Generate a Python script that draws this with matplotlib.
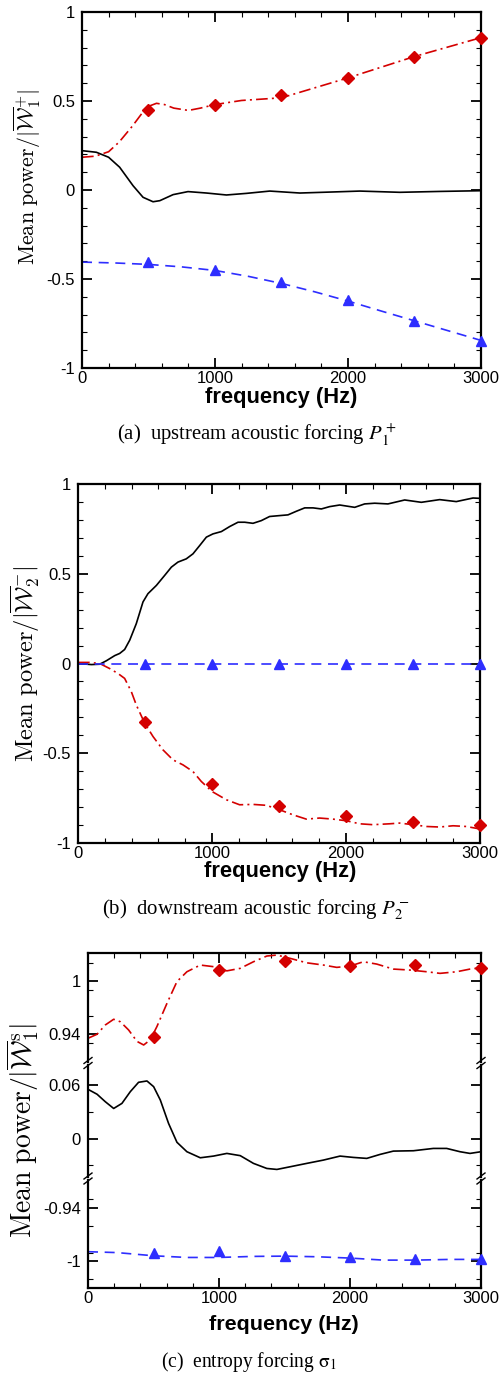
import matplotlib
matplotlib.use('Agg')
import matplotlib.pyplot as plt
from matplotlib.ticker import MultipleLocator, FixedLocator, FixedFormatter
from matplotlib.lines import Line2D

plt.rcParams['font.family'] = ['Liberation Sans', 'DejaVu Sans']
plt.rcParams['axes.unicode_minus'] = False

# ---------------- data ----------------
marker_freq = [500, 1000, 1500, 2000, 2500, 3000]

# panel (a): upstream acoustic forcing
a_red_f = [0, 100, 200, 280, 380, 450, 500, 560, 620, 690, 800, 890, 1000, 1200, 1500, 1750, 2000, 2250, 2500, 2750, 3000]
a_red_v = [0.184, 0.19, 0.215, 0.27, 0.36, 0.43, 0.47, 0.487, 0.48, 0.46, 0.447, 0.46, 0.48, 0.503, 0.518, 0.574, 0.63, 0.69, 0.75, 0.803, 0.856]
a_red_m = [0.447, 0.48, 0.533, 0.63, 0.75, 0.856]
a_blk_f = [0, 108, 200, 283, 384, 459, 534, 585, 685, 797, 936, 1086, 1236, 1412, 1638, 1889, 2089, 2390, 2691, 3000]
a_blk_v = [0.221, 0.212, 0.184, 0.128, 0.024, -0.041, -0.066, -0.06, -0.026, -0.009, -0.017, -0.028, -0.019, -0.006, -0.017, -0.011, -0.006, -0.013, -0.008, -0.004]
a_blu_f = [0, 250, 500, 750, 1000, 1250, 1500, 1750, 2000, 2250, 2500, 2750, 3000]
a_blu_v = [-0.405, -0.41, -0.418, -0.432, -0.452, -0.485, -0.525, -0.572, -0.624, -0.68, -0.735, -0.79, -0.845]
a_blu_m = [-0.405, -0.45, -0.515, -0.617, -0.735, -0.848]

# panel (b): downstream acoustic forcing
b_blk_f = [0, 100, 162, 211, 274, 311, 348, 386, 435, 485, 522, 585, 647, 697, 746, 808, 858, 908, 958, 1007,
           1070, 1132, 1194, 1244, 1306, 1368, 1430, 1505, 1567, 1629, 1692, 1754, 1816, 1878, 1953, 2065,
           2139, 2214, 2313, 2438, 2562, 2699, 2823, 2948, 3000]
b_blk_v = [0.0, -0.006, -0.004, 0.015, 0.044, 0.056, 0.078, 0.13, 0.222, 0.343, 0.389, 0.435, 0.491, 0.537,
           0.565, 0.583, 0.611, 0.657, 0.704, 0.722, 0.735, 0.763, 0.787, 0.787, 0.781, 0.796, 0.819, 0.824,
           0.828, 0.848, 0.867, 0.867, 0.861, 0.874, 0.883, 0.87, 0.889, 0.893, 0.889, 0.911, 0.898, 0.913,
           0.902, 0.922, 0.92]
b_red_f = [0, 87, 162, 236, 299, 348, 398, 435, 498, 560, 634, 709, 784, 858, 920, 1000, 1107, 1206, 1306,
           1405, 1505, 1604, 1704, 1803, 1903, 2002, 2102, 2201, 2326, 2400, 2500, 2600, 2699, 2799, 2898, 3000]
b_red_v = [0.006, 0.006, 0.0, -0.028, -0.056, -0.083, -0.157, -0.231, -0.333, -0.407, -0.481, -0.537, -0.565,
           -0.602, -0.657, -0.713, -0.759, -0.787, -0.785, -0.79, -0.815, -0.843, -0.867, -0.861, -0.867,
           -0.876, -0.893, -0.898, -0.893, -0.889, -0.898, -0.908, -0.911, -0.904, -0.908, -0.922]
b_red_m = [-0.324, -0.672, -0.793, -0.852, -0.883, -0.898]
b_blu_f = [0, 3000]
b_blu_v = [0.0, 0.0]
b_blu_m = [0.0, 0.0, 0.0, 0.0, 0.0, 0.0]

# panel (c): entropy forcing (broken axis)
c_red_f = [0, 69, 132, 196, 247, 310, 374, 425, 475, 526, 603, 679, 755, 857, 958, 1060, 1162, 1263, 1365,
           1442, 1543, 1670, 1797, 1899, 2001, 2102, 2204, 2331, 2458, 2586, 2687, 2814, 2916, 3000]
c_red_v = [0.9355, 0.940, 0.9504, 0.9568, 0.954, 0.9448, 0.932, 0.928, 0.9337, 0.9486, 0.9747, 0.999, 1.010,
           1.0175, 1.0157, 1.011, 1.0138, 1.0212, 1.0276, 1.0287, 1.025, 1.020, 1.0175, 1.0149, 1.0164,
           1.0212, 1.0186, 1.013, 1.0119, 1.010, 1.0082, 1.010, 1.013, 1.0145]
c_red_m = [0.937, 1.0119, 1.022, 1.0164, 1.0175, 1.0145]
c_blk_f = [0, 69, 132, 196, 259, 323, 386, 450, 501, 552, 615, 679, 755, 857, 958, 1060, 1162, 1263, 1365,
           1442, 1543, 1670, 1797, 1924, 2026, 2128, 2230, 2331, 2484, 2636, 2738, 2840, 2916, 3000]
c_blk_v = [0.0555, 0.050, 0.0416, 0.034, 0.0397, 0.0529, 0.0634, 0.0649, 0.0585, 0.0435, 0.0172, -0.004,
           -0.0146, -0.0214, -0.0195, -0.0165, -0.019, -0.0277, -0.0334, -0.0345, -0.0315, -0.0277, -0.024,
           -0.0195, -0.021, -0.0221, -0.0176, -0.0139, -0.0135, -0.0109, -0.0109, -0.0146, -0.0165, -0.0146]
c_blu_f = [0, 221, 501, 755, 1000, 1263, 1500, 1746, 2001, 2255, 2500, 2765, 3000]
c_blu_v = [-0.989, -0.990, -0.9936, -0.9955, -0.9955, -0.9943, -0.994, -0.9947, -0.9962, -0.9985, -0.9985,
           -0.9977, -0.9977]
c_blu_m = [-0.990, -0.9887, -0.9936, -0.9947, -0.9974, -0.997]

a_yticks = [-1, -0.5, 0, 0.5, 1]
a_yticklabels = ['-1', '-0.5', '0', '0.5', '1']
x_ticks = [0, 1000, 2000, 3000]
x_ticklabels = ['0', '1000', '2000', '3000']
c_top_ticks, c_top_labels = [0.94, 1.0], ['0.94', '1']
c_mid_ticks, c_mid_labels = [0.0, 0.06], ['0', '0.06']
c_bot_ticks, c_bot_labels = [-1.0, -0.94], ['-1', '-0.94']

# ---------------- styling ----------------
RED = '#d40000'
BLUE = '#2e2eff'
W, H = 502, 1376
fig = plt.figure(figsize=(W / 100, H / 100), dpi=100)


def rect(l, t, r, b):
    return [l / W, 1 - b / H, (r - l) / W, (b - t) / H]


def style(ax, top=True, bottom=True, xlabels=True):
    for s in ax.spines.values():
        s.set_linewidth(1.6)
    ax.tick_params(which='both', direction='in', left=True, right=True, top=top, bottom=bottom,
                   labelbottom=xlabels and bottom, labelsize=12)
    ax.tick_params(which='major', length=7, width=1.3, pad=5)
    ax.tick_params(which='minor', length=3.5, width=0.8)
    ax.tick_params(axis='x', which='major', pad=2)
    ax.set_xlim(0, 3000)
    ax.xaxis.set_major_locator(FixedLocator(x_ticks))
    ax.xaxis.set_major_formatter(FixedFormatter(x_ticklabels))
    ax.xaxis.set_minor_locator(MultipleLocator(200))


def draw_red(ax, f, v, m):
    ax.plot(f, v, color=RED, lw=1.2, dashes=(7, 2.5, 1.2, 2.5))
    ax.plot(marker_freq, m, ls='none', marker='D', ms=6.5, color=RED, clip_on=False, zorder=5)


def draw_blue(ax, f, v, m):
    ax.plot(f, v, color=BLUE, lw=1.2, dashes=(6, 4))
    ax.plot(marker_freq, m, ls='none', marker='^', ms=7.5, color=BLUE, clip_on=False, zorder=5)


def draw_black(ax, f, v):
    ax.plot(f, v, color='black', lw=1.2)


xlabel_kw = dict(fontsize=13, fontweight='bold', ha='center', va='center')
cap_kw = dict(fontsize=13.5, family='Liberation Serif', math_fontfamily='stix', ha='center', va='center')
ylab_kw = dict(fontsize=15, rotation=90, ha='center', va='center', math_fontfamily='cm')

fitted = []  # (text, target length in px, vertical?)

# ---- panel (a) ----
axa = fig.add_axes(rect(82, 12, 481, 368))
style(axa)
axa.set_ylim(-1, 1)
axa.yaxis.set_major_locator(FixedLocator(a_yticks))
axa.yaxis.set_major_formatter(FixedFormatter(a_yticklabels))
axa.yaxis.set_minor_locator(MultipleLocator(0.1))
draw_red(axa, a_red_f, a_red_v, a_red_m)
draw_black(axa, a_blk_f, a_blk_v)
draw_blue(axa, a_blu_f, a_blu_v, a_blu_m)
fitted.append((fig.text(281 / W, 1 - 398 / H, 'frequency (Hz)', **xlabel_kw), 152, False))
fitted.append((fig.text(27 / W, 1 - 177 / H, r'$\mathrm{Mean\ power}/|\overline{\mathcal{W}}_{1}^{+}|$', **ylab_kw), 176, True))
fitted.append((fig.text(257 / W, 1 - 435 / H, r'(a)  upstream acoustic forcing $P_1^+$', **cap_kw), 280, False))

# ---- panel (b) ----
axb = fig.add_axes(rect(78, 484, 480, 843))
style(axb)
axb.set_ylim(-1, 1)
axb.yaxis.set_major_locator(FixedLocator(a_yticks))
axb.yaxis.set_major_formatter(FixedFormatter(a_yticklabels))
axb.yaxis.set_minor_locator(MultipleLocator(0.1))
draw_black(axb, b_blk_f, b_blk_v)
draw_red(axb, b_red_f, b_red_v, b_red_m)
draw_blue(axb, b_blu_f, b_blu_v, b_blu_m)
fitted.append((fig.text(280 / W, 1 - 872 / H, 'frequency (Hz)', **xlabel_kw), 152, False))
fitted.append((fig.text(25 / W, 1 - 664 / H, r'$\mathrm{Mean\ power}/|\overline{\mathcal{W}}_{2}^{-}|$', **ylab_kw), 196, True))
fitted.append((fig.text(256 / W, 1 - 910 / H, r'(b)  downstream acoustic forcing $P_2^-$', **cap_kw), 308, False))

# ---- panel (c): broken axis ----
axt = fig.add_axes(rect(88, 953, 481, 1061.5))
axm = fig.add_axes(rect(88, 1064.5, 481, 1177))
axl = fig.add_axes(rect(88, 1180, 481, 1288))
style(axt, top=True, bottom=False)
style(axm, top=False, bottom=False)
style(axl, top=False, bottom=True)
axt.spines['bottom'].set_visible(False)
axm.spines['top'].set_visible(False)
axm.spines['bottom'].set_visible(False)
axl.spines['top'].set_visible(False)
axt.set_ylim(0.9095, 1.031)
axm.set_ylim(-0.043, 0.0834)
axl.set_ylim(-1.030, -0.908)
for ax, tk, lb in ((axt, c_top_ticks, c_top_labels), (axm, c_mid_ticks, c_mid_labels),
                   (axl, c_bot_ticks, c_bot_labels)):
    ax.yaxis.set_major_locator(FixedLocator(tk))
    ax.yaxis.set_major_formatter(FixedFormatter(lb))
    ax.yaxis.set_minor_locator(MultipleLocator(0.03))
draw_red(axt, c_red_f, c_red_v, c_red_m)
draw_black(axm, c_blk_f, c_blk_v)
draw_blue(axl, c_blu_f, c_blu_v, c_blu_m)

# break marks
for yc in (1063, 1178.5):
    for xc in (88, 481):
        for dy in (-2.5, 2.5):
            y0 = yc + dy
            fig.add_artist(Line2D([(xc - 4) / W, (xc + 4) / W],
                                  [1 - (y0 + 3) / H, 1 - (y0 - 3) / H],
                                  transform=fig.transFigure, color='black', lw=1.0))

fitted.append((fig.text(284 / W, 1 - 1325 / H, 'frequency (Hz)', **xlabel_kw), 150, False))
fitted.append((fig.text(23 / W, 1 - 1131 / H, r'$\mathrm{Mean\ power}/|\overline{\mathcal{W}}_{1}^{\mathrm{s}}|$', **ylab_kw), 215, True))
fitted.append((fig.text(249 / W, 1 - 1362 / H, r'(c)  entropy forcing $\mathrm{\sigma}_1$', **cap_kw), 175, False))

# scale text sizes so their rendered extents match the reference
renderer = fig.canvas.get_renderer()
for _ in range(2):
    for t, target, vert in fitted:
        bb = t.get_window_extent(renderer)
        cur = bb.height if vert else bb.width
        if cur > 0:
            t.set_fontsize(t.get_fontsize() * target / cur)

fig.savefig('out.png', dpi=100)
